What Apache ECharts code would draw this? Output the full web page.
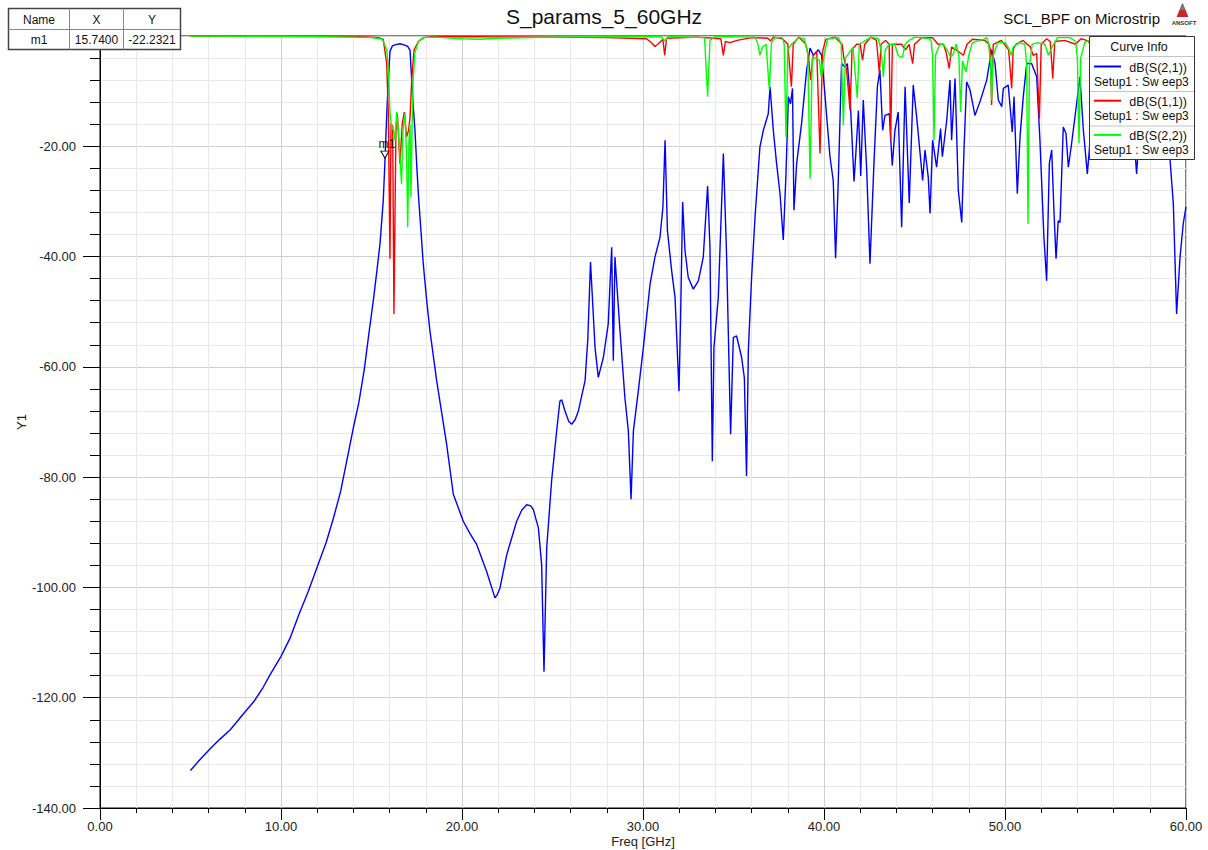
<!DOCTYPE html>
<html>
<head>
<meta charset="utf-8">
<script src="https://cdn.jsdelivr.net/npm/echarts@6/dist/echarts.min.js"></script>
<style>
html,body{margin:0;padding:0;background:#fff;}
#c{width:1208px;height:850px;}
</style>
</head>
<body>
<div id="c"></div>
<script>
// ---- data: [frequency GHz, dB] ----
const s21 = [[5.0,-133.2],[5.5,-131.3],[6.1,-129.2],[6.6,-127.6],[7.2,-125.8],[7.8,-123.4],[8.5,-120.7],[9.0,-118.2],[9.4,-115.8],[10.0,-112.5],[10.5,-109.2],[11.0,-104.8],[11.5,-100.8],[12.0,-96.3],[12.5,-91.8],[12.9,-87.4],[13.3,-82.5],[13.63,-77.1],[14.0,-71.0],[14.3,-66.5],[14.6,-60.5],[14.85,-54.1],[15.1,-48.0],[15.3,-42.5],[15.47,-37.7],[15.65,-29.8],[15.75,-22.2],[15.85,-13.5],[15.93,-8.0],[16.02,-2.8],[16.15,-1.8],[16.3,-1.6],[16.57,-1.4],[16.8,-1.6],[17.0,-1.9],[17.13,-2.6],[17.22,-8.0],[17.3,-12.5],[17.4,-17.0],[17.5,-23.5],[17.6,-29.2],[17.86,-41.3],[18.05,-48.0],[18.23,-53.5],[18.6,-62.5],[19.15,-74.0],[19.52,-83.1],[20.07,-88.0],[20.45,-90.3],[20.81,-92.2],[21.36,-97.1],[21.82,-101.9],[21.95,-101.3],[22.1,-100.1],[22.47,-94.1],[23.02,-88.0],[23.3,-86.0],[23.57,-85.0],[23.8,-85.2],[23.94,-85.9],[24.22,-89.2],[24.4,-95.9],[24.53,-115.3],[24.68,-92.8],[24.95,-80.7],[25.23,-71.6],[25.41,-66.2],[25.51,-66.0],[25.69,-68.0],[25.9,-69.9],[26.06,-70.4],[26.25,-69.6],[26.43,-68.0],[26.8,-62.5],[26.95,-55.0],[27.1,-41.0],[27.35,-56.5],[27.53,-61.9],[27.81,-58.3],[28.08,-52.2],[28.27,-38.3],[28.36,-58.9],[28.45,-40.1],[28.73,-53.5],[29.0,-65.6],[29.19,-71.6],[29.34,-84.0],[29.47,-71.6],[29.74,-64.4],[30.02,-56.5],[30.39,-45.0],[30.66,-40.1],[30.94,-36.5],[31.1,-31.0],[31.22,-18.9],[31.35,-35.3],[31.58,-42.5],[31.77,-47.4],[31.99,-64.4],[32.08,-50.4],[32.19,-30.1],[32.32,-38.9],[32.5,-43.8],[32.78,-45.9],[33.06,-44.4],[33.33,-40.1],[33.57,-27.2],[33.7,-38.3],[33.83,-77.1],[33.92,-56.5],[34.16,-47.4],[34.44,-21.3],[34.62,-40.1],[34.84,-72.2],[34.99,-54.7],[35.17,-54.4],[35.45,-58.3],[35.6,-62.0],[35.72,-79.8],[35.82,-57.1],[36.0,-43.8],[36.19,-32.8],[36.46,-20.1],[36.65,-17.1],[36.92,-14.1],[37.02,-9.2],[37.2,-17.1],[37.38,-23.1],[37.57,-28.6],[37.75,-37.0],[37.9,-25.0],[38.03,-11.0],[38.15,-12.3],[38.26,-9.5],[38.34,-31.6],[38.49,-23.1],[38.76,-15.9],[39.04,-6.2],[39.23,-2.2],[39.41,-3.5],[39.69,-2.5],[39.87,-3.5],[40.06,-11.0],[40.33,-21.9],[40.51,-26.2],[40.64,-40.3],[40.79,-26.2],[40.97,-5.0],[41.16,-5.6],[41.29,-5.0],[41.44,-11.0],[41.66,-26.4],[41.77,-20.7],[41.9,-13.5],[42.03,-25.4],[42.17,-11.6],[42.36,-24.4],[42.54,-41.3],[42.76,-23.1],[42.95,-9.2],[43.09,-6.2],[43.24,-17.1],[43.37,-14.4],[43.61,-14.1],[43.77,-23.5],[43.92,-17.1],[44.1,-13.8],[44.29,-34.7],[44.48,-9.2],[44.71,-30.3],[44.93,-8.9],[45.12,-14.7],[45.45,-26.2],[45.58,-20.7],[45.76,-25.6],[45.86,-32.2],[46.0,-18.9],[46.22,-23.8],[46.44,-16.8],[46.54,-21.9],[46.78,-15.3],[46.96,-8.0],[47.05,-18.9],[47.24,-7.7],[47.42,-28.0],[47.61,-33.8],[47.74,-20.1],[47.88,-8.3],[48.07,-9.8],[48.34,-14.4],[48.62,-11.9],[48.99,-8.0],[49.26,-2.5],[49.45,-5.0],[49.63,-11.6],[49.82,-12.8],[49.91,-9.5],[50.18,-8.9],[50.4,-17.4],[50.5,-11.0],[50.68,-28.6],[50.83,-18.3],[51.01,-11.0],[51.2,-5.0],[51.47,-5.0],[51.75,-7.4],[51.93,-18.9],[52.15,-36.5],[52.3,-44.4],[52.45,-23.1],[52.58,-20.7],[52.71,-32.2],[52.82,-40.4],[52.94,-33.5],[53.04,-33.8],[53.22,-16.5],[53.37,-17.7],[53.5,-23.8],[53.68,-19.5],[53.96,-12.2],[54.14,-7.4],[54.33,-17.1],[54.55,-25.0],[54.8,-15.0],[55.1,-8.0],[55.5,-12.0],[55.9,-6.0],[56.3,-10.0],[56.7,-16.0],[57.0,-12.0],[57.27,-25.0],[57.5,-14.0],[57.9,-8.0],[58.3,-6.0],[58.7,-12.0],[58.95,-18.0],[59.12,-22.5],[59.3,-30.4],[59.48,-50.4],[59.67,-40.1],[59.85,-34.0],[60.0,-31.0]];

const s11 = [[5.0,-0.02],[10.0,-0.05],[14.0,-0.1],[15.0,-0.2],[15.4,-0.3],[15.65,-0.6],[15.84,-5.0],[15.93,-14.0],[16.02,-40.4],[16.08,-15.9],[16.17,-16.5],[16.24,-50.4],[16.35,-17.1],[16.43,-14.1],[16.57,-23.1],[16.7,-15.9],[16.81,-13.8],[16.94,-18.3],[17.05,-17.1],[17.13,-14.7],[17.22,-8.0],[17.35,-2.5],[17.59,-1.0],[17.86,-0.3],[18.5,-0.1],[25.0,-0.2],[28.0,-0.3],[30.2,-0.5],[30.5,-1.3],[30.66,-1.9],[30.85,-1.4],[31.1,-0.6],[31.2,-3.5],[31.3,-0.4],[33.0,-0.2],[34.3,-0.5],[34.44,-3.5],[34.55,-1.0],[34.8,-1.2],[35.2,-0.8],[36.0,-0.3],[36.9,-0.4],[37.05,-0.9],[37.2,-0.2],[37.7,-0.5],[38.0,-1.5],[38.2,-9.2],[38.3,-1.5],[38.6,-0.2],[39.0,-1.5],[39.15,-4.0],[39.26,-8.0],[39.4,-3.5],[39.6,-2.8],[39.78,-21.3],[39.92,-2.8],[40.1,-0.6],[40.6,-0.2],[41.0,-1.5],[41.1,-4.0],[41.25,-6.2],[41.44,-13.5],[41.55,-2.5],[41.8,-1.5],[42.0,-1.5],[42.13,-4.4],[42.25,-1.5],[42.6,-0.2],[42.9,-0.8],[43.06,-6.8],[43.15,-1.5],[43.4,-0.8],[43.6,-1.5],[43.68,-18.9],[43.78,-1.5],[44.1,-1.5],[44.3,-1.5],[44.5,-2.5],[44.7,-1.5],[44.9,-5.0],[45.0,-1.5],[45.4,-0.3],[46.0,-0.3],[46.3,-1.5],[46.6,-1.5],[46.75,-3.0],[46.92,-5.9],[47.05,-2.0],[47.3,-2.5],[47.5,-3.0],[47.7,-3.5],[47.9,-1.5],[48.2,-0.6],[48.9,-0.8],[49.1,-1.5],[49.2,-2.5],[49.26,-12.5],[49.35,-1.5],[49.8,-0.8],[50.2,-2.5],[50.37,-9.5],[50.45,-2.5],[50.6,-1.5],[51.0,-0.8],[51.4,-2.0],[51.55,-3.5],[51.75,-3.2],[51.9,-15.0],[52.0,-1.5],[52.3,-0.5],[52.5,-1.0],[52.64,-7.7],[52.75,-1.0],[53.3,-0.8],[53.9,-1.5],[54.2,-0.5],[54.5,-0.8],[55.0,-2.0],[55.5,-1.0],[56.0,-3.0],[56.5,-1.0],[57.0,-2.0],[57.5,-1.0],[58.0,-2.0],[58.5,-1.0],[59.0,-1.5],[59.5,-1.0],[60.0,-0.8]];

const s22 = [[5.0,-0.02],[10.0,-0.05],[14.0,-0.2],[15.0,-0.3],[15.6,-0.6],[15.84,-2.5],[15.93,-6.0],[15.98,-10.0],[16.02,-14.0],[16.13,-17.0],[16.2,-16.5],[16.3,-19.0],[16.39,-13.8],[16.48,-17.0],[16.57,-22.0],[16.66,-26.8],[16.74,-17.0],[16.85,-14.0],[16.94,-22.0],[17.0,-34.7],[17.07,-19.0],[17.13,-16.0],[17.18,-29.2],[17.24,-17.0],[17.3,-8.0],[17.4,-3.0],[17.59,-1.0],[17.86,-0.3],[18.5,-0.2],[20.0,-0.5],[21.0,-0.6],[22.0,-0.4],[25.0,-0.2],[31.0,-0.1],[31.2,-0.9],[31.4,-0.1],[33.4,-0.3],[33.57,-11.0],[33.7,-0.8],[34.0,-0.1],[36.2,-0.2],[36.35,-1.5],[36.46,-3.5],[36.6,-2.0],[36.8,-1.5],[36.98,-9.8],[37.1,-1.2],[37.3,-0.3],[37.7,-0.3],[37.8,-1.5],[37.9,-18.3],[38.0,-2.5],[38.2,-1.5],[38.6,-0.3],[38.9,-0.5],[39.1,-3.0],[39.23,-25.9],[39.35,-4.0],[39.6,-4.0],[39.75,-4.5],[39.85,-7.5],[40.0,-3.5],[40.2,-0.5],[40.8,-0.3],[40.95,-1.5],[41.07,-16.2],[41.18,-4.0],[41.4,-3.0],[41.6,-2.0],[41.84,-11.3],[41.95,-1.5],[42.3,-0.8],[42.6,-0.2],[43.0,-0.5],[43.15,-2.5],[43.28,-7.4],[43.38,-2.5],[43.6,-1.5],[43.9,-1.5],[44.1,-3.5],[44.2,-3.8],[44.34,-3.8],[44.48,-1.5],[44.7,-0.8],[45.0,-0.2],[45.9,-0.5],[46.0,-3.5],[46.08,-18.9],[46.16,-3.5],[46.4,-1.5],[46.6,-1.5],[46.8,-2.5],[47.0,-3.8],[47.15,-3.2],[47.3,-1.5],[47.45,-3.5],[47.55,-13.8],[47.65,-4.5],[47.85,-6.5],[48.0,-3.5],[48.2,-1.2],[48.8,-0.6],[49.0,-0.3],[49.1,-1.5],[49.2,-5.0],[49.26,-11.6],[49.35,-3.5],[49.6,-1.2],[50.0,-1.2],[50.2,-2.2],[50.35,-3.5],[50.45,-2.0],[50.8,-1.2],[51.1,-1.5],[51.2,-5.5],[51.27,-34.1],[51.35,-5.5],[51.5,-1.5],[51.8,-1.2],[52.2,-1.5],[52.4,-3.5],[52.6,-2.0],[52.9,-0.3],[53.6,-0.3],[53.9,-1.0],[54.0,-4.0],[54.09,-19.5],[54.18,-4.0],[54.4,-1.2],[54.6,-0.8],[55.0,-2.0],[55.4,-6.0],[55.8,-1.0],[56.2,-4.0],[56.6,-1.0],[57.2,-8.0],[57.6,-1.0],[58.2,-3.0],[58.8,-1.0],[59.4,-2.0],[60.0,-1.0]];

const seriesNames = ['dB(S(2,1))','dB(S(1,1))','dB(S(2,2))'];
const seriesColors = ['#0000ff','#ff0000','#00ff00'];
const sweepLabel = 'Setup1 : Sw eep3';
const markerName = 'm1';
const markerX = 15.74;
const markerY = -22.2321;
const xTicks = [0,10,20,30,40,50,60];
const yTicks = [-140,-120,-100,-80,-60,-40,-20,0];

const FONT = '"Liberation Sans", Arial, sans-serif';
const chart = echarts.init(document.getElementById('c'), null, {renderer:'svg'});

const legendGraphics = [];
legendGraphics.push({type:'rect', z:100, shape:{x:1089.5,y:36.5,width:105,height:123}, style:{fill:'#fff', stroke:'#333', lineWidth:1}});
legendGraphics.push({type:'text', z:101, style:{x:1139, y:47, text:'Curve Info', textAlign:'center', textVerticalAlign:'middle', font:'12.5px '+FONT, fill:'#111'}});
[56.5, 91.5, 126].forEach(y => legendGraphics.push({type:'line', z:101, shape:{x1:1090,y1:y,x2:1194,y2:y}, style:{stroke:'#c4c4c4', lineWidth:1}}));
seriesNames.forEach((nm, i) => {
  const base = 66.5 + i*34.2;
  legendGraphics.push({type:'line', z:101, shape:{x1:1094,y1:base,x2:1121,y2:base}, style:{stroke:seriesColors[i], lineWidth:2}});
  legendGraphics.push({type:'text', z:101, style:{x:1187, y:base+1.5, text:nm, textAlign:'right', textVerticalAlign:'middle', font:'12.5px '+FONT, fill:'#111'}});
  legendGraphics.push({type:'text', z:101, style:{x:1094, y:base+15.5, text:sweepLabel, textAlign:'left', textVerticalAlign:'middle', font:'12px '+FONT, fill:'#111'}});
});

const tableGraphics = [
  {type:'rect', z:100, shape:{x:8.5,y:8.5,width:172,height:41}, style:{fill:'#fff', stroke:'#444', lineWidth:1.5}},
  {type:'line', z:101, shape:{x1:69.5,y1:8.5,x2:69.5,y2:49.5}, style:{stroke:'#888', lineWidth:1}},
  {type:'line', z:101, shape:{x1:123.5,y1:8.5,x2:123.5,y2:49.5}, style:{stroke:'#888', lineWidth:1}},
  {type:'line', z:101, shape:{x1:8.5,y1:29.5,x2:180.5,y2:29.5}, style:{stroke:'#888', lineWidth:1}},
  {type:'text', z:101, style:{x:39, y:19.5, text:'Name', textAlign:'center', textVerticalAlign:'middle', font:'12px '+FONT, fill:'#111'}},
  {type:'text', z:101, style:{x:96.5, y:19.5, text:'X', textAlign:'center', textVerticalAlign:'middle', font:'12px '+FONT, fill:'#111'}},
  {type:'text', z:101, style:{x:152, y:19.5, text:'Y', textAlign:'center', textVerticalAlign:'middle', font:'12px '+FONT, fill:'#111'}},
  {type:'text', z:101, style:{x:39, y:40, text:markerName, textAlign:'center', textVerticalAlign:'middle', font:'12px '+FONT, fill:'#111'}},
  {type:'text', z:101, style:{x:96.5, y:40, text:markerX.toFixed(4), textAlign:'center', textVerticalAlign:'middle', font:'12px '+FONT, fill:'#111'}},
  {type:'text', z:101, style:{x:152, y:40, text:markerY.toFixed(4), textAlign:'center', textVerticalAlign:'middle', font:'12px '+FONT, fill:'#111'}}
];

const headerGraphics = [
  {type:'text', z:100, style:{x:1160, y:18, text:'SCL_BPF on Microstrip', textAlign:'right', textVerticalAlign:'middle', font:'15px '+FONT, fill:'#111'}},
  {type:'polygon', z:100, shape:{points:[[1182.5,3],[1176.5,17],[1188.5,17]]}, style:{fill:'#c8252c'}},
  {type:'polygon', z:100, shape:{points:[[1182.5,3],[1179.5,10],[1185.5,10]]}, style:{fill:'#777'}},
  {type:'text', z:100, style:{x:1184, y:22.5, text:'ANSOFT', textAlign:'center', textVerticalAlign:'middle', font:'bold 6px '+FONT, fill:'#333'}}
];

function lineSeries(name, data, color, extra) {
  return Object.assign({
    name: name, type:'line', data: data, showSymbol:false, symbol:'none',
    lineStyle:{color:color, width:1.4}, itemStyle:{color:color},
    animation:false, silent:true, clip:true
  }, extra || {});
}

const option = {
  backgroundColor:'#fff',
  animation:false,
  textStyle:{fontFamily:FONT},
  title:{text:'S_params_5_60GHz', left:'center', top:6, padding:0,
    textStyle:{fontSize:21, fontWeight:'normal', color:'#111', fontFamily:FONT}},
  grid:{left:100, right:22, top:36, bottom:42, outerBoundsMode:'none', containLabel:false,
    show:true, borderColor:'#000', borderWidth:1, backgroundColor:'transparent'},
  xAxis:{
    type:'value', min:xTicks[0], max:xTicks[xTicks.length-1], interval:10,
    name:'Freq [GHz]', nameLocation:'middle', nameGap:26, nameMoveOverlap:false,
    nameTextStyle:{fontSize:13, color:'#222', fontFamily:FONT, lineHeight:14},
    axisLine:{show:true, onZero:false, lineStyle:{color:'#000', width:1}},
    axisTick:{show:true, length:12, lineStyle:{color:'#000'}},
    minorTick:{show:true, splitNumber:5, length:5, lineStyle:{color:'#000'}},
    axisLabel:{fontSize:13, color:'#222', margin:12, formatter:v => v.toFixed(2)},
    splitLine:{show:true, lineStyle:{color:'#d0d0d0', width:1}},
    minorSplitLine:{show:true, lineStyle:{color:'#e8e8e8', width:1}}
  },
  yAxis:{
    type:'value', min:yTicks[0], max:yTicks[yTicks.length-1], interval:20,
    name:'Y1', nameLocation:'middle', nameGap:72, nameRotate:90, nameMoveOverlap:false,
    nameTextStyle:{fontSize:13, color:'#222', fontFamily:FONT},
    axisLine:{show:true, onZero:false, lineStyle:{color:'#000', width:1}},
    axisTick:{show:true, length:17, lineStyle:{color:'#000'}},
    minorTick:{show:true, splitNumber:5, length:10, lineStyle:{color:'#000'}},
    axisLabel:{fontSize:13, color:'#222', margin:24, formatter:v => (v === 0 ? '' : v.toFixed(2))},
    splitLine:{show:true, lineStyle:{color:'#d0d0d0', width:1}},
    minorSplitLine:{show:true, lineStyle:{color:'#e8e8e8', width:1}}
  },
  series:[
    lineSeries(seriesNames[0], s21, seriesColors[0], {
      z:2,
      markPoint:{
        silent:true, animation:false,
        symbol:'triangle', symbolSize:[8,7], symbolRotate:180, symbolOffset:[0,-4],
        itemStyle:{color:'#fff', borderColor:'#000', borderWidth:1},
        label:{show:true, position:'top', distance:1, formatter:markerName, color:'#111', fontSize:12, offset:[2,0], fontFamily:FONT},
        data:[{name:markerName, coord:[markerX, markerY]}]
      }
    }),
    lineSeries(seriesNames[1], s11, seriesColors[1], {z:3}),
    lineSeries(seriesNames[2], s22, seriesColors[2], {z:4})
  ],
  graphic:{elements: tableGraphics.concat(legendGraphics, headerGraphics)}
};
chart.setOption(option);
</script>
</body>
</html>
